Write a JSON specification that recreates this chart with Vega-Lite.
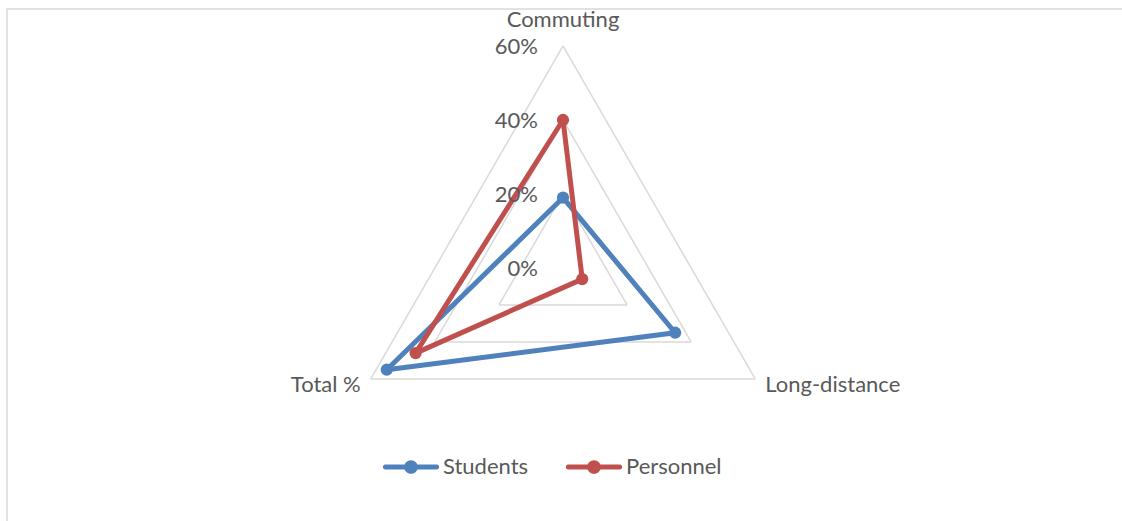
{
  "$schema": "https://vega.github.io/schema/vega-lite/v6.json",
  "width": 1115,
  "height": 512,
  "autosize": {"type": "none"},
  "padding": {"left": 7, "top": 9, "right": 0, "bottom": 0},
  "background": "white",
  "config": {
    "view": {"stroke": "#d9d9d9", "strokeWidth": 1.5, "strokeDash": [1115, 1627, 512, 1]},
    "font": "Lato"
  },
  "datasets": {
    "series": [
      {"series": "Students", "axis": "Commuting", "idx": 0, "pct": 19},
      {"series": "Students", "axis": "Long-distance", "idx": 1, "pct": 35},
      {"series": "Students", "axis": "Total %", "idx": 2, "pct": 55},
      {"series": "Personnel", "axis": "Commuting", "idx": 0, "pct": 40},
      {"series": "Personnel", "axis": "Long-distance", "idx": 1, "pct": 6},
      {"series": "Personnel", "axis": "Total %", "idx": 2, "pct": 46}
    ],
    "grid": [
      {"level": 20, "idx": 0}, {"level": 20, "idx": 1}, {"level": 20, "idx": 2},
      {"level": 40, "idx": 0}, {"level": 40, "idx": 1}, {"level": 40, "idx": 2},
      {"level": 60, "idx": 0}, {"level": 60, "idx": 1}, {"level": 60, "idx": 2}
    ],
    "ticks": [{"t": 0}, {"t": 0.2}, {"t": 0.4}, {"t": 0.6}],
    "axes": [
      {"label": "Commuting", "idx": 0},
      {"label": "Long-distance", "idx": 1},
      {"label": "Total %", "idx": 2}
    ]
  },
  "layer": [
    {
      "data": {"name": "grid"},
      "transform": [
        {"calculate": "datum.idx*2*PI/3", "as": "th"},
        {"calculate": "datum.level*sin(datum.th)", "as": "gx"},
        {"calculate": "datum.level*cos(datum.th)", "as": "gy"},
        {"window": [
          {"op": "lead", "field": "gx", "as": "nx"},
          {"op": "lead", "field": "gy", "as": "ny"},
          {"op": "first_value", "field": "gx", "as": "fx"},
          {"op": "first_value", "field": "gy", "as": "fy"}
        ], "groupby": ["level"], "sort": [{"field": "idx"}]},
        {"calculate": "datum.nx == null ? datum.fx : datum.nx", "as": "gx2"},
        {"calculate": "datum.ny == null ? datum.fy : datum.ny", "as": "gy2"}
      ],
      "mark": {"type": "rule", "color": "#d9d9d9", "strokeWidth": 1.5},
      "encoding": {
        "x": {"field": "gx", "type": "quantitative", "scale": {"domain": [-150.27, 151.08], "nice": false, "zero": false}, "axis": null},
        "y": {"field": "gy", "type": "quantitative", "scale": {"domain": [-68.38, 70.0], "nice": false, "zero": false}, "axis": null},
        "x2": {"field": "gx2"},
        "y2": {"field": "gy2"}
      }
    },
    {
      "data": {"name": "series"},
      "transform": [
        {"calculate": "datum.idx*2*PI/3", "as": "th"},
        {"calculate": "datum.pct*sin(datum.th)", "as": "px"},
        {"calculate": "datum.pct*cos(datum.th)", "as": "py"},
        {"window": [
          {"op": "lead", "field": "px", "as": "nx"},
          {"op": "lead", "field": "py", "as": "ny"},
          {"op": "first_value", "field": "px", "as": "fx"},
          {"op": "first_value", "field": "py", "as": "fy"}
        ], "groupby": ["series"], "sort": [{"field": "idx"}]},
        {"calculate": "datum.nx == null ? datum.fx : datum.nx", "as": "px2"},
        {"calculate": "datum.ny == null ? datum.fy : datum.ny", "as": "py2"}
      ],
      "mark": {"type": "rule", "strokeWidth": 5, "strokeCap": "round"},
      "encoding": {
        "x": {"field": "px", "type": "quantitative", "scale": {"domain": [-150.27, 151.08], "nice": false, "zero": false}, "axis": null},
        "y": {"field": "py", "type": "quantitative", "scale": {"domain": [-68.38, 70.0], "nice": false, "zero": false}, "axis": null},
        "x2": {"field": "px2"},
        "y2": {"field": "py2"},
        "color": {
          "field": "series", "type": "nominal",
          "scale": {"domain": ["Students", "Personnel"], "range": ["#4f81bd", "#c0504d"]},
          "legend": {
            "title": null, "orient": "none", "legendX": 376, "legendY": 430, "direction": "horizontal",
            "padding": 0, "labelFont": "Lato", "labelFontSize": 22, "labelColor": "#595959", "labelOffset": 4,
            "labelLimit": 300, "columnPadding": 36, "symbolSize": 3136,
            "symbolType": "M-0.92,-0.085 L0.92,-0.085 A0.085,0.085 0 0 1 0.92,0.085 L-0.92,0.085 A0.085,0.085 0 0 1 -0.92,-0.085 Z M0.245,0 A0.245,0.245 0 1 1 -0.245,0 A0.245,0.245 0 1 1 0.245,0 Z",
            "encode": {"symbols": {"update": {"fill": {"scale": "color", "field": "value"}, "stroke": {"value": "transparent"}, "strokeWidth": {"value": 0}, "opacity": {"value": 1}, "fillOpacity": {"value": 1}}}}
          }
        }
      }
    },
    {
      "data": {"name": "series"},
      "transform": [
        {"calculate": "datum.idx*2*PI/3", "as": "th"},
        {"calculate": "datum.pct*sin(datum.th)", "as": "px"},
        {"calculate": "datum.pct*cos(datum.th)", "as": "py"}
      ],
      "mark": {"type": "point", "shape": "circle", "filled": true, "size": 150, "opacity": 1},
      "encoding": {
        "x": {"field": "px", "type": "quantitative", "scale": {"domain": [-150.27, 151.08], "nice": false, "zero": false}, "axis": null},
        "y": {"field": "py", "type": "quantitative", "scale": {"domain": [-68.38, 70.0], "nice": false, "zero": false}, "axis": null},
        "color": {
          "field": "series", "type": "nominal",
          "scale": {"domain": ["Students", "Personnel"], "range": ["#4f81bd", "#c0504d"]},
          "legend": {
            "title": null, "orient": "none", "legendX": 376, "legendY": 430, "direction": "horizontal",
            "padding": 0, "labelFont": "Lato", "labelFontSize": 22, "labelColor": "#595959", "labelOffset": 4,
            "labelLimit": 300, "columnPadding": 36, "symbolSize": 3136,
            "symbolType": "M-0.92,-0.085 L0.92,-0.085 A0.085,0.085 0 0 1 0.92,0.085 L-0.92,0.085 A0.085,0.085 0 0 1 -0.92,-0.085 Z M0.245,0 A0.245,0.245 0 1 1 -0.245,0 A0.245,0.245 0 1 1 0.245,0 Z",
            "encode": {"symbols": {"update": {"fill": {"scale": "color", "field": "value"}, "stroke": {"value": "transparent"}, "strokeWidth": {"value": 0}, "opacity": {"value": 1}, "fillOpacity": {"value": 1}}}}
          }
        }
      }
    },
    {
      "data": {"name": "ticks"},
      "transform": [{"calculate": "datum.t*100", "as": "ty"}],
      "mark": {"type": "text", "align": "right", "baseline": "middle", "dx": -25, "dy": 1, "fontSize": 22, "font": "Lato", "color": "#595959"},
      "encoding": {
        "x": {"datum": 0, "type": "quantitative", "scale": {"domain": [-150.27, 151.08], "nice": false, "zero": false}, "axis": null},
        "y": {"field": "ty", "type": "quantitative", "scale": {"domain": [-68.38, 70.0], "nice": false, "zero": false}, "axis": null},
        "text": {"field": "t", "type": "quantitative", "format": ".0%"}
      }
    },
    {
      "data": {"name": "axes"},
      "transform": [
        {"filter": "datum.idx == 0"},
        {"calculate": "60*sin(datum.idx*2*PI/3)", "as": "ax"},
        {"calculate": "60*cos(datum.idx*2*PI/3)", "as": "ay"}
      ],
      "mark": {"type": "text", "align": "center", "baseline": "middle", "dy": -26, "fontSize": 22, "font": "Lato", "color": "#595959"},
      "encoding": {
        "x": {"field": "ax", "type": "quantitative", "scale": {"domain": [-150.27, 151.08], "nice": false, "zero": false}, "axis": null},
        "y": {"field": "ay", "type": "quantitative", "scale": {"domain": [-68.38, 70.0], "nice": false, "zero": false}, "axis": null},
        "text": {"field": "label"}
      }
    },
    {
      "data": {"name": "axes"},
      "transform": [
        {"filter": "datum.idx == 1"},
        {"calculate": "60*sin(datum.idx*2*PI/3)", "as": "ax"},
        {"calculate": "60*cos(datum.idx*2*PI/3)", "as": "ay"}
      ],
      "mark": {"type": "text", "align": "left", "baseline": "middle", "dx": 10, "dy": 6, "fontSize": 22, "font": "Lato", "color": "#595959"},
      "encoding": {
        "x": {"field": "ax", "type": "quantitative", "scale": {"domain": [-150.27, 151.08], "nice": false, "zero": false}, "axis": null},
        "y": {"field": "ay", "type": "quantitative", "scale": {"domain": [-68.38, 70.0], "nice": false, "zero": false}, "axis": null},
        "text": {"field": "label"}
      }
    },
    {
      "data": {"name": "axes"},
      "transform": [
        {"filter": "datum.idx == 2"},
        {"calculate": "60*sin(datum.idx*2*PI/3)", "as": "ax"},
        {"calculate": "60*cos(datum.idx*2*PI/3)", "as": "ay"}
      ],
      "mark": {"type": "text", "align": "right", "baseline": "middle", "dx": -10, "dy": 6, "fontSize": 22, "font": "Lato", "color": "#595959"},
      "encoding": {
        "x": {"field": "ax", "type": "quantitative", "scale": {"domain": [-150.27, 151.08], "nice": false, "zero": false}, "axis": null},
        "y": {"field": "ay", "type": "quantitative", "scale": {"domain": [-68.38, 70.0], "nice": false, "zero": false}, "axis": null},
        "text": {"field": "label"}
      }
    }
  ]
}
